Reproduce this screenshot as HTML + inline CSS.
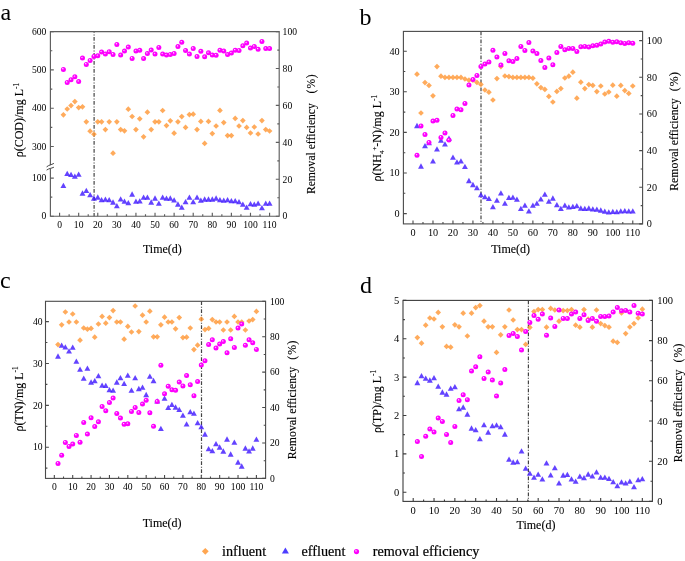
<!DOCTYPE html>
<html><head><meta charset="utf-8"><style>
html,body{margin:0;padding:0;background:#fff;}
svg{display:block;will-change:transform;}
text{font-family:"Liberation Serif", serif;}
.s{stroke:#000;stroke-width:0.2px;}
.t{stroke:#000;stroke-width:0.12px;}
</style></head><body>
<svg width="685" height="561" viewBox="0 0 685 561" font-family='"Liberation Serif", serif'>
<defs>
<radialGradient id="sg" cx="0.5" cy="0.5" r="0.5" fx="0.36" fy="0.32">
<stop offset="0" stop-color="#fff2ff"/>
<stop offset="0.14" stop-color="#ffa8ff"/>
<stop offset="0.34" stop-color="#ff30ff"/>
<stop offset="0.48" stop-color="#ff00ff"/>
<stop offset="1" stop-color="#fb00fb"/>
</radialGradient>
</defs>
<rect width="685" height="561" fill="#fff"/>
<line x1="94.1" y1="31.6" x2="94.1" y2="216.2" stroke="#444" stroke-width="1.2" stroke-dasharray="3.8 1.6 1 1.6" stroke-dashoffset="2.53"/>
<g fill="#3c14ff" fill-opacity="0.8">
<path d="M63.4 182.75L66.35 188.05L60.45 188.05Z"/>
<path d="M67.22 170.75L70.17 176.05L64.27 176.05Z"/>
<path d="M71.03 171.75L73.98 177.05L68.08 177.05Z"/>
<path d="M74.85 173.55L77.8 178.85L71.9 178.85Z"/>
<path d="M78.67 171.55L81.62 176.85L75.72 176.85Z"/>
<path d="M82.49 190.35L85.44 195.65L79.54 195.65Z"/>
<path d="M86.31 187.75L89.26 193.05L83.36 193.05Z"/>
<path d="M90.12 191.95L93.07 197.25L87.17 197.25Z"/>
<path d="M93.94 195.35L96.89 200.65L90.99 200.65Z"/>
<path d="M97.76 194.35L100.71 199.65L94.81 199.65Z"/>
<path d="M101.58 196.95L104.53 202.25L98.63 202.25Z"/>
<path d="M105.4 196.55L108.35 201.85L102.45 201.85Z"/>
<path d="M109.21 196.95L112.16 202.25L106.26 202.25Z"/>
<path d="M113.03 199.35L115.98 204.65L110.08 204.65Z"/>
<path d="M116.85 202.95L119.8 208.25L113.9 208.25Z"/>
<path d="M120.67 196.15L123.62 201.45L117.72 201.45Z"/>
<path d="M124.49 198.55L127.44 203.85L121.54 203.85Z"/>
<path d="M128.3 199.95L131.25 205.25L125.35 205.25Z"/>
<path d="M132.12 191.35L135.07 196.65L129.17 196.65Z"/>
<path d="M135.94 198.55L138.89 203.85L132.99 203.85Z"/>
<path d="M139.76 198.15L142.71 203.45L136.81 203.45Z"/>
<path d="M143.58 194.55L146.53 199.85L140.63 199.85Z"/>
<path d="M147.39 194.55L150.34 199.85L144.44 199.85Z"/>
<path d="M151.21 199.35L154.16 204.65L148.26 204.65Z"/>
<path d="M155.03 195.35L157.98 200.65L152.08 200.65Z"/>
<path d="M158.85 200.55L161.8 205.85L155.9 205.85Z"/>
<path d="M162.67 194.55L165.62 199.85L159.72 199.85Z"/>
<path d="M166.48 195.55L169.43 200.85L163.53 200.85Z"/>
<path d="M170.3 195.35L173.25 200.65L167.35 200.65Z"/>
<path d="M174.12 197.15L177.07 202.45L171.17 202.45Z"/>
<path d="M177.94 201.35L180.89 206.65L174.99 206.65Z"/>
<path d="M181.76 204.55L184.71 209.85L178.81 209.85Z"/>
<path d="M185.57 198.95L188.52 204.25L182.62 204.25Z"/>
<path d="M189.39 194.55L192.34 199.85L186.44 199.85Z"/>
<path d="M193.21 198.95L196.16 204.25L190.26 204.25Z"/>
<path d="M197.03 194.55L199.98 199.85L194.08 199.85Z"/>
<path d="M200.85 197.55L203.8 202.85L197.9 202.85Z"/>
<path d="M204.66 196.35L207.61 201.65L201.71 201.65Z"/>
<path d="M208.48 196.35L211.43 201.65L205.53 201.65Z"/>
<path d="M212.3 196.35L215.25 201.65L209.35 201.65Z"/>
<path d="M216.12 195.35L219.07 200.65L213.17 200.65Z"/>
<path d="M219.94 196.95L222.89 202.25L216.99 202.25Z"/>
<path d="M223.75 197.55L226.7 202.85L220.8 202.85Z"/>
<path d="M227.57 196.95L230.52 202.25L224.62 202.25Z"/>
<path d="M231.39 197.95L234.34 203.25L228.44 203.25Z"/>
<path d="M235.21 197.95L238.16 203.25L232.26 203.25Z"/>
<path d="M239.03 198.95L241.98 204.25L236.08 204.25Z"/>
<path d="M242.84 201.55L245.79 206.85L239.89 206.85Z"/>
<path d="M246.66 204.55L249.61 209.85L243.71 209.85Z"/>
<path d="M250.48 200.95L253.43 206.25L247.53 206.25Z"/>
<path d="M254.3 201.55L257.25 206.85L251.35 206.85Z"/>
<path d="M258.12 200.55L261.07 205.85L255.17 205.85Z"/>
<path d="M261.93 204.95L264.88 210.25L258.98 210.25Z"/>
<path d="M265.75 200.55L268.7 205.85L262.8 205.85Z"/>
<path d="M269.57 200.55L272.52 205.85L266.62 205.85Z"/>
</g>
<g fill="#ff9633" fill-opacity="0.8">
<path d="M63.4 111.95L66.25 114.8L63.4 117.65L60.55 114.8Z"/>
<path d="M67.22 106.15L70.07 109L67.22 111.85L64.37 109Z"/>
<path d="M71.03 102.75L73.88 105.6L71.03 108.45L68.18 105.6Z"/>
<path d="M74.85 98.75L77.7 101.6L74.85 104.45L72 101.6Z"/>
<path d="M78.67 104.75L81.52 107.6L78.67 110.45L75.82 107.6Z"/>
<path d="M82.49 103.95L85.34 106.8L82.49 109.65L79.64 106.8Z"/>
<path d="M86.31 118.95L89.16 121.8L86.31 124.65L83.46 121.8Z"/>
<path d="M90.12 128.35L92.97 131.2L90.12 134.05L87.27 131.2Z"/>
<path d="M93.94 131.35L96.79 134.2L93.94 137.05L91.09 134.2Z"/>
<path d="M97.76 118.95L100.61 121.8L97.76 124.65L94.91 121.8Z"/>
<path d="M101.58 118.95L104.43 121.8L101.58 124.65L98.73 121.8Z"/>
<path d="M105.4 126.75L108.25 129.6L105.4 132.45L102.55 129.6Z"/>
<path d="M109.21 118.95L112.06 121.8L109.21 124.65L106.36 121.8Z"/>
<path d="M113.03 150.35L115.88 153.2L113.03 156.05L110.18 153.2Z"/>
<path d="M116.85 118.95L119.7 121.8L116.85 124.65L114 121.8Z"/>
<path d="M120.67 126.75L123.52 129.6L120.67 132.45L117.82 129.6Z"/>
<path d="M124.49 127.95L127.34 130.8L124.49 133.65L121.64 130.8Z"/>
<path d="M128.3 106.35L131.15 109.2L128.3 112.05L125.45 109.2Z"/>
<path d="M132.12 113.65L134.97 116.5L132.12 119.35L129.27 116.5Z"/>
<path d="M135.94 126.75L138.79 129.6L135.94 132.45L133.09 129.6Z"/>
<path d="M139.76 115.95L142.61 118.8L139.76 121.65L136.91 118.8Z"/>
<path d="M143.58 133.95L146.43 136.8L143.58 139.65L140.73 136.8Z"/>
<path d="M147.39 109.35L150.24 112.2L147.39 115.05L144.54 112.2Z"/>
<path d="M151.21 126.75L154.06 129.6L151.21 132.45L148.36 129.6Z"/>
<path d="M155.03 118.95L157.88 121.8L155.03 124.65L152.18 121.8Z"/>
<path d="M158.85 118.95L161.7 121.8L158.85 124.65L156 121.8Z"/>
<path d="M162.67 107.65L165.52 110.5L162.67 113.35L159.82 110.5Z"/>
<path d="M166.48 122.75L169.33 125.6L166.48 128.45L163.63 125.6Z"/>
<path d="M170.3 117.95L173.15 120.8L170.3 123.65L167.45 120.8Z"/>
<path d="M174.12 130.35L176.97 133.2L174.12 136.05L171.27 133.2Z"/>
<path d="M177.94 118.95L180.79 121.8L177.94 124.65L175.09 121.8Z"/>
<path d="M181.76 113.75L184.61 116.6L181.76 119.45L178.91 116.6Z"/>
<path d="M185.57 124.55L188.42 127.4L185.57 130.25L182.72 127.4Z"/>
<path d="M189.39 111.75L192.24 114.6L189.39 117.45L186.54 114.6Z"/>
<path d="M193.21 111.35L196.06 114.2L193.21 117.05L190.36 114.2Z"/>
<path d="M197.03 126.75L199.88 129.6L197.03 132.45L194.18 129.6Z"/>
<path d="M200.85 118.55L203.7 121.4L200.85 124.25L198 121.4Z"/>
<path d="M204.66 140.55L207.51 143.4L204.66 146.25L201.81 143.4Z"/>
<path d="M208.48 118.55L211.33 121.4L208.48 124.25L205.63 121.4Z"/>
<path d="M212.3 130.75L215.15 133.6L212.3 136.45L209.45 133.6Z"/>
<path d="M216.12 123.15L218.97 126L216.12 128.85L213.27 126Z"/>
<path d="M219.94 107.55L222.79 110.4L219.94 113.25L217.09 110.4Z"/>
<path d="M223.75 119.75L226.6 122.6L223.75 125.45L220.9 122.6Z"/>
<path d="M227.57 132.75L230.42 135.6L227.57 138.45L224.72 135.6Z"/>
<path d="M231.39 132.75L234.24 135.6L231.39 138.45L228.54 135.6Z"/>
<path d="M235.21 115.55L238.06 118.4L235.21 121.25L232.36 118.4Z"/>
<path d="M239.03 123.15L241.88 126L239.03 128.85L236.18 126Z"/>
<path d="M242.84 117.75L245.69 120.6L242.84 123.45L239.99 120.6Z"/>
<path d="M246.66 124.55L249.51 127.4L246.66 130.25L243.81 127.4Z"/>
<path d="M250.48 130.15L253.33 133L250.48 135.85L247.63 133Z"/>
<path d="M254.3 124.15L257.15 127L254.3 129.85L251.45 127Z"/>
<path d="M258.12 131.15L260.97 134L258.12 136.85L255.27 134Z"/>
<path d="M261.93 117.75L264.78 120.6L261.93 123.45L259.08 120.6Z"/>
<path d="M265.75 126.75L268.6 129.6L265.75 132.45L262.9 129.6Z"/>
<path d="M269.57 128.15L272.42 131L269.57 133.85L266.72 131Z"/>
</g>
<g>
<circle cx="63.4" cy="69.4" r="2.5" fill="url(#sg)"/>
<circle cx="67.22" cy="82.6" r="2.5" fill="url(#sg)"/>
<circle cx="71.03" cy="79.8" r="2.5" fill="url(#sg)"/>
<circle cx="74.85" cy="76.8" r="2.5" fill="url(#sg)"/>
<circle cx="78.67" cy="81.6" r="2.5" fill="url(#sg)"/>
<circle cx="82.49" cy="58" r="2.5" fill="url(#sg)"/>
<circle cx="86.31" cy="64.4" r="2.5" fill="url(#sg)"/>
<circle cx="90.12" cy="60.6" r="2.5" fill="url(#sg)"/>
<circle cx="93.94" cy="56.4" r="2.5" fill="url(#sg)"/>
<circle cx="97.76" cy="55.8" r="2.5" fill="url(#sg)"/>
<circle cx="101.58" cy="52" r="2.5" fill="url(#sg)"/>
<circle cx="105.4" cy="54" r="2.5" fill="url(#sg)"/>
<circle cx="109.21" cy="51.8" r="2.5" fill="url(#sg)"/>
<circle cx="113.03" cy="54.4" r="2.5" fill="url(#sg)"/>
<circle cx="116.85" cy="44.4" r="2.5" fill="url(#sg)"/>
<circle cx="120.67" cy="55" r="2.5" fill="url(#sg)"/>
<circle cx="124.49" cy="51" r="2.5" fill="url(#sg)"/>
<circle cx="128.3" cy="47" r="2.5" fill="url(#sg)"/>
<circle cx="132.12" cy="58.4" r="2.5" fill="url(#sg)"/>
<circle cx="135.94" cy="51" r="2.5" fill="url(#sg)"/>
<circle cx="139.76" cy="50.2" r="2.5" fill="url(#sg)"/>
<circle cx="143.58" cy="58.6" r="2.5" fill="url(#sg)"/>
<circle cx="147.39" cy="53.6" r="2.5" fill="url(#sg)"/>
<circle cx="151.21" cy="50" r="2.5" fill="url(#sg)"/>
<circle cx="155.03" cy="54" r="2.5" fill="url(#sg)"/>
<circle cx="158.85" cy="47.4" r="2.5" fill="url(#sg)"/>
<circle cx="162.67" cy="54" r="2.5" fill="url(#sg)"/>
<circle cx="166.48" cy="55" r="2.5" fill="url(#sg)"/>
<circle cx="170.3" cy="54.6" r="2.5" fill="url(#sg)"/>
<circle cx="174.12" cy="53.6" r="2.5" fill="url(#sg)"/>
<circle cx="177.94" cy="46.6" r="2.5" fill="url(#sg)"/>
<circle cx="181.76" cy="42.2" r="2.5" fill="url(#sg)"/>
<circle cx="185.57" cy="50.4" r="2.5" fill="url(#sg)"/>
<circle cx="189.39" cy="54" r="2.5" fill="url(#sg)"/>
<circle cx="193.21" cy="48.6" r="2.5" fill="url(#sg)"/>
<circle cx="197.03" cy="56.6" r="2.5" fill="url(#sg)"/>
<circle cx="200.85" cy="51.2" r="2.5" fill="url(#sg)"/>
<circle cx="204.66" cy="56.8" r="2.5" fill="url(#sg)"/>
<circle cx="208.48" cy="52.8" r="2.5" fill="url(#sg)"/>
<circle cx="212.3" cy="55" r="2.5" fill="url(#sg)"/>
<circle cx="216.12" cy="55.2" r="2.5" fill="url(#sg)"/>
<circle cx="219.94" cy="50.2" r="2.5" fill="url(#sg)"/>
<circle cx="223.75" cy="51" r="2.5" fill="url(#sg)"/>
<circle cx="227.57" cy="54.6" r="2.5" fill="url(#sg)"/>
<circle cx="231.39" cy="53" r="2.5" fill="url(#sg)"/>
<circle cx="235.21" cy="50.2" r="2.5" fill="url(#sg)"/>
<circle cx="239.03" cy="50.6" r="2.5" fill="url(#sg)"/>
<circle cx="242.84" cy="45.8" r="2.5" fill="url(#sg)"/>
<circle cx="246.66" cy="43" r="2.5" fill="url(#sg)"/>
<circle cx="250.48" cy="48" r="2.5" fill="url(#sg)"/>
<circle cx="254.3" cy="46.6" r="2.5" fill="url(#sg)"/>
<circle cx="258.12" cy="49.2" r="2.5" fill="url(#sg)"/>
<circle cx="261.93" cy="41.4" r="2.5" fill="url(#sg)"/>
<circle cx="265.75" cy="48.6" r="2.5" fill="url(#sg)"/>
<circle cx="269.57" cy="48.6" r="2.5" fill="url(#sg)"/>
</g>
<path d="M50.4 31.6H53.8M50.4 69.9H53.8M50.4 108.2H53.8M50.4 146.5H53.8M50.4 178.1H53.8M50.4 216.2H53.8M50.4 50.75H52.3M50.4 89.05H52.3M50.4 127.35H52.3M50.4 197.15H52.3M279.2 216.2H275.8M279.2 179.28H275.8M279.2 142.36H275.8M279.2 105.44H275.8M279.2 68.52H275.8M279.2 31.6H275.8M279.2 197.74H277.3M279.2 160.82H277.3M279.2 123.9H277.3M279.2 86.98H277.3M279.2 50.06H277.3M59.58 216.2V212.8M78.67 216.2V212.8M97.76 216.2V212.8M116.85 216.2V212.8M135.94 216.2V212.8M155.03 216.2V212.8M174.12 216.2V212.8M193.21 216.2V212.8M212.3 216.2V212.8M231.39 216.2V212.8M250.48 216.2V212.8M269.57 216.2V212.8M69.12 216.2V214.3M88.22 216.2V214.3M107.31 216.2V214.3M126.39 216.2V214.3M145.49 216.2V214.3M164.57 216.2V214.3M183.67 216.2V214.3M202.75 216.2V214.3M221.85 216.2V214.3M240.94 216.2V214.3M260.02 216.2V214.3" stroke="#5e5e5e" stroke-width="1.15" fill="none"/>
<path d="M50.4 165.3V31.6H279.2V216.2H50.4V168.4" stroke="#5e5e5e" stroke-width="1.15" fill="none"/>
<path d="M46.6 166.9 C49.52 164.6 50.98 165 53.9 163.4" stroke="#444" stroke-width="1" fill="none"/>
<path d="M46.6 170.1 C49.52 168.16 50.98 168.56 53.9 167.2" stroke="#444" stroke-width="1" fill="none"/>
<g font-size="9.6" fill="#000">
<text x="46.3" y="34.86" text-anchor="end">600</text>
<text x="46.3" y="73.16" text-anchor="end">500</text>
<text x="46.3" y="111.46" text-anchor="end">400</text>
<text x="46.3" y="149.76" text-anchor="end">300</text>
<text x="46.3" y="181.36" text-anchor="end">100</text>
<text x="46.3" y="219.46" text-anchor="end">0</text>
<text x="282.6" y="219.46">0</text>
<text x="282.6" y="182.54">20</text>
<text x="282.6" y="145.62">40</text>
<text x="282.6" y="108.7">60</text>
<text x="282.6" y="71.78">80</text>
<text x="282.6" y="34.86">100</text>
<text x="59.58" y="228" text-anchor="middle">0</text>
<text x="78.67" y="228" text-anchor="middle">10</text>
<text x="97.76" y="228" text-anchor="middle">20</text>
<text x="116.85" y="228" text-anchor="middle">30</text>
<text x="135.94" y="228" text-anchor="middle">40</text>
<text x="155.03" y="228" text-anchor="middle">50</text>
<text x="174.12" y="228" text-anchor="middle">60</text>
<text x="193.21" y="228" text-anchor="middle">70</text>
<text x="212.3" y="228" text-anchor="middle">80</text>
<text x="231.39" y="228" text-anchor="middle">90</text>
<text x="250.48" y="228" text-anchor="middle">100</text>
<text x="269.57" y="228" text-anchor="middle">110</text>
</g>
<text x="162.4" y="253.4" text-anchor="middle" font-size="12" fill="#000" class="t">Time(d)</text>
<text transform="translate(22.7 120) rotate(-90)" text-anchor="middle" font-size="12" fill="#000" class="t">ρ(COD)/mg L<tspan font-size="7.5" dy="-4.2">-1</tspan></text>
<text transform="translate(315 194.1) rotate(-90)" font-size="11.6" fill="#000" class="t">Removal efficiency<tspan dx="9.6">(</tspan><tspan dx="1.3">%</tspan><tspan dx="0.5">)</tspan></text>
<text x="0.5" y="19.8" font-size="24" fill="#000">a</text>
<line x1="481" y1="31.4" x2="481" y2="223.9" stroke="#444" stroke-width="1.2" stroke-dasharray="3.8 1.6 1 1.6" stroke-dashoffset="0"/>
<g fill="#3c14ff" fill-opacity="0.8">
<path d="M417 122.85L419.95 128.15L414.05 128.15Z"/>
<path d="M420.99 163.35L423.94 168.65L418.04 168.65Z"/>
<path d="M424.99 142.95L427.94 148.25L422.04 148.25Z"/>
<path d="M428.98 139.95L431.93 145.25L426.03 145.25Z"/>
<path d="M432.98 158.25L435.93 163.55L430.03 163.55Z"/>
<path d="M436.98 146.25L439.93 151.55L434.03 151.55Z"/>
<path d="M440.97 137.55L443.92 142.85L438.02 142.85Z"/>
<path d="M444.97 141.15L447.92 146.45L442.02 146.45Z"/>
<path d="M448.96 135.45L451.91 140.75L446.01 140.75Z"/>
<path d="M452.96 154.55L455.91 159.85L450.01 159.85Z"/>
<path d="M456.96 159.15L459.91 164.45L454.01 164.45Z"/>
<path d="M460.95 158.15L463.9 163.45L458 163.45Z"/>
<path d="M464.95 163.75L467.9 169.05L462 169.05Z"/>
<path d="M468.94 177.85L471.89 183.15L465.99 183.15Z"/>
<path d="M472.94 181.85L475.89 187.15L469.99 187.15Z"/>
<path d="M476.94 184.95L479.89 190.25L473.99 190.25Z"/>
<path d="M480.93 191.95L483.88 197.25L477.98 197.25Z"/>
<path d="M484.93 193.95L487.88 199.25L481.98 199.25Z"/>
<path d="M488.92 195.75L491.87 201.05L485.97 201.05Z"/>
<path d="M492.92 203.95L495.87 209.25L489.97 209.25Z"/>
<path d="M496.92 197.55L499.87 202.85L493.97 202.85Z"/>
<path d="M500.91 190.25L503.86 195.55L497.96 195.55Z"/>
<path d="M504.91 200.45L507.86 205.75L501.96 205.75Z"/>
<path d="M508.9 194.65L511.85 199.95L505.95 199.95Z"/>
<path d="M512.9 194.45L515.85 199.75L509.95 199.75Z"/>
<path d="M516.9 196.45L519.85 201.75L513.95 201.75Z"/>
<path d="M520.89 205.75L523.84 211.05L517.94 211.05Z"/>
<path d="M524.89 202.45L527.84 207.75L521.94 207.75Z"/>
<path d="M528.88 208.15L531.83 213.45L525.93 213.45Z"/>
<path d="M532.88 202.55L535.83 207.85L529.93 207.85Z"/>
<path d="M536.88 200.55L539.83 205.85L533.93 205.85Z"/>
<path d="M540.87 196.25L543.82 201.55L537.92 201.55Z"/>
<path d="M544.87 191.55L547.82 196.85L541.92 196.85Z"/>
<path d="M548.86 198.55L551.81 203.85L545.91 203.85Z"/>
<path d="M552.86 195.35L555.81 200.65L549.91 200.65Z"/>
<path d="M556.86 201.95L559.81 207.25L553.91 207.25Z"/>
<path d="M560.85 205.75L563.8 211.05L557.9 211.05Z"/>
<path d="M564.85 202.55L567.8 207.85L561.9 207.85Z"/>
<path d="M568.84 204.15L571.79 209.45L565.89 209.45Z"/>
<path d="M572.84 203.75L575.79 209.05L569.89 209.05Z"/>
<path d="M576.84 202.95L579.79 208.25L573.89 208.25Z"/>
<path d="M580.83 205.35L583.78 210.65L577.88 210.65Z"/>
<path d="M584.83 205.75L587.78 211.05L581.88 211.05Z"/>
<path d="M588.82 205.35L591.77 210.65L585.87 210.65Z"/>
<path d="M592.82 206.15L595.77 211.45L589.87 211.45Z"/>
<path d="M596.82 206.55L599.77 211.85L593.87 211.85Z"/>
<path d="M600.81 207.35L603.76 212.65L597.86 212.65Z"/>
<path d="M604.81 208.55L607.76 213.85L601.86 213.85Z"/>
<path d="M608.8 209.15L611.75 214.45L605.85 214.45Z"/>
<path d="M612.8 208.75L615.75 214.05L609.85 214.05Z"/>
<path d="M616.8 208.95L619.75 214.25L613.85 214.25Z"/>
<path d="M620.79 208.15L623.74 213.45L617.84 213.45Z"/>
<path d="M624.79 207.95L627.74 213.25L621.84 213.25Z"/>
<path d="M628.78 208.15L631.73 213.45L625.83 213.45Z"/>
<path d="M632.78 208.15L635.73 213.45L629.83 213.45Z"/>
</g>
<g fill="#ff9633" fill-opacity="0.8">
<path d="M417 71.35L419.85 74.2L417 77.05L414.15 74.2Z"/>
<path d="M420.99 110.15L423.84 113L420.99 115.85L418.14 113Z"/>
<path d="M424.99 79.75L427.84 82.6L424.99 85.45L422.14 82.6Z"/>
<path d="M428.98 82.55L431.83 85.4L428.98 88.25L426.13 85.4Z"/>
<path d="M432.98 92.95L435.83 95.8L432.98 98.65L430.13 95.8Z"/>
<path d="M436.98 63.75L439.83 66.6L436.98 69.45L434.13 66.6Z"/>
<path d="M440.97 73.35L443.82 76.2L440.97 79.05L438.12 76.2Z"/>
<path d="M444.97 74.55L447.82 77.4L444.97 80.25L442.12 77.4Z"/>
<path d="M448.96 74.55L451.81 77.4L448.96 80.25L446.11 77.4Z"/>
<path d="M452.96 74.55L455.81 77.4L452.96 80.25L450.11 77.4Z"/>
<path d="M456.96 74.55L459.81 77.4L456.96 80.25L454.11 77.4Z"/>
<path d="M460.95 74.55L463.8 77.4L460.95 80.25L458.1 77.4Z"/>
<path d="M464.95 76.15L467.8 79L464.95 81.85L462.1 79Z"/>
<path d="M468.94 77.35L471.79 80.2L468.94 83.05L466.09 80.2Z"/>
<path d="M472.94 77.35L475.79 80.2L472.94 83.05L470.09 80.2Z"/>
<path d="M476.94 79.55L479.79 82.4L476.94 85.25L474.09 82.4Z"/>
<path d="M480.93 81.55L483.78 84.4L480.93 87.25L478.08 84.4Z"/>
<path d="M484.93 87.15L487.78 90L484.93 92.85L482.08 90Z"/>
<path d="M488.92 89.35L491.77 92.2L488.92 95.05L486.07 92.2Z"/>
<path d="M492.92 97.15L495.77 100L492.92 102.85L490.07 100Z"/>
<path d="M496.92 75.75L499.77 78.6L496.92 81.45L494.07 78.6Z"/>
<path d="M500.91 63.75L503.76 66.6L500.91 69.45L498.06 66.6Z"/>
<path d="M504.91 73.15L507.76 76L504.91 78.85L502.06 76Z"/>
<path d="M508.9 73.75L511.75 76.6L508.9 79.45L506.05 76.6Z"/>
<path d="M512.9 74.55L515.75 77.4L512.9 80.25L510.05 77.4Z"/>
<path d="M516.9 74.55L519.75 77.4L516.9 80.25L514.05 77.4Z"/>
<path d="M520.89 74.55L523.74 77.4L520.89 80.25L518.04 77.4Z"/>
<path d="M524.89 74.55L527.74 77.4L524.89 80.25L522.04 77.4Z"/>
<path d="M528.88 74.55L531.73 77.4L528.88 80.25L526.03 77.4Z"/>
<path d="M532.88 75.35L535.73 78.2L532.88 81.05L530.03 78.2Z"/>
<path d="M536.88 80.95L539.73 83.8L536.88 86.65L534.03 83.8Z"/>
<path d="M540.87 84.75L543.72 87.6L540.87 90.45L538.02 87.6Z"/>
<path d="M544.87 86.55L547.72 89.4L544.87 92.25L542.02 89.4Z"/>
<path d="M548.86 93.55L551.71 96.4L548.86 99.25L546.01 96.4Z"/>
<path d="M552.86 99.15L555.71 102L552.86 104.85L550.01 102Z"/>
<path d="M556.86 88.55L559.71 91.4L556.86 94.25L554.01 91.4Z"/>
<path d="M560.85 85.75L563.7 88.6L560.85 91.45L558 88.6Z"/>
<path d="M564.85 75.15L567.7 78L564.85 80.85L562 78Z"/>
<path d="M568.84 73.35L571.69 76.2L568.84 79.05L565.99 76.2Z"/>
<path d="M572.84 69.35L575.69 72.2L572.84 75.05L569.99 72.2Z"/>
<path d="M576.84 95.35L579.69 98.2L576.84 101.05L573.99 98.2Z"/>
<path d="M580.83 79.35L583.68 82.2L580.83 85.05L577.98 82.2Z"/>
<path d="M584.83 85.75L587.68 88.6L584.83 91.45L581.98 88.6Z"/>
<path d="M588.82 81.75L591.67 84.6L588.82 87.45L585.97 84.6Z"/>
<path d="M592.82 82.55L595.67 85.4L592.82 88.25L589.97 85.4Z"/>
<path d="M596.82 88.75L599.67 91.6L596.82 94.45L593.97 91.6Z"/>
<path d="M600.81 83.15L603.66 86L600.81 88.85L597.96 86Z"/>
<path d="M604.81 91.15L607.66 94L604.81 96.85L601.96 94Z"/>
<path d="M608.8 89.15L611.65 92L608.8 94.85L605.95 92Z"/>
<path d="M612.8 82.35L615.65 85.2L612.8 88.05L609.95 85.2Z"/>
<path d="M616.8 93.35L619.65 96.2L616.8 99.05L613.95 96.2Z"/>
<path d="M620.79 82.55L623.64 85.4L620.79 88.25L617.94 85.4Z"/>
<path d="M624.79 87.75L627.64 90.6L624.79 93.45L621.94 90.6Z"/>
<path d="M628.78 90.55L631.63 93.4L628.78 96.25L625.93 93.4Z"/>
<path d="M632.78 83.15L635.63 86L632.78 88.85L629.93 86Z"/>
</g>
<g>
<circle cx="417" cy="155.2" r="2.5" fill="url(#sg)"/>
<circle cx="420.99" cy="125.9" r="2.5" fill="url(#sg)"/>
<circle cx="424.99" cy="134.6" r="2.5" fill="url(#sg)"/>
<circle cx="428.98" cy="142.4" r="2.5" fill="url(#sg)"/>
<circle cx="432.98" cy="121.1" r="2.5" fill="url(#sg)"/>
<circle cx="436.98" cy="120.2" r="2.5" fill="url(#sg)"/>
<circle cx="440.97" cy="137.4" r="2.5" fill="url(#sg)"/>
<circle cx="444.97" cy="132.9" r="2.5" fill="url(#sg)"/>
<circle cx="448.96" cy="140" r="2.5" fill="url(#sg)"/>
<circle cx="452.96" cy="115.5" r="2.5" fill="url(#sg)"/>
<circle cx="456.96" cy="109" r="2.5" fill="url(#sg)"/>
<circle cx="460.95" cy="109.8" r="2.5" fill="url(#sg)"/>
<circle cx="464.95" cy="103.4" r="2.5" fill="url(#sg)"/>
<circle cx="468.94" cy="85" r="2.5" fill="url(#sg)"/>
<circle cx="472.94" cy="79.6" r="2.5" fill="url(#sg)"/>
<circle cx="476.94" cy="75.4" r="2.5" fill="url(#sg)"/>
<circle cx="480.93" cy="66.4" r="2.5" fill="url(#sg)"/>
<circle cx="484.93" cy="64" r="2.5" fill="url(#sg)"/>
<circle cx="488.92" cy="62" r="2.5" fill="url(#sg)"/>
<circle cx="492.92" cy="50.2" r="2.5" fill="url(#sg)"/>
<circle cx="496.92" cy="57" r="2.5" fill="url(#sg)"/>
<circle cx="500.91" cy="65" r="2.5" fill="url(#sg)"/>
<circle cx="504.91" cy="53.4" r="2.5" fill="url(#sg)"/>
<circle cx="508.9" cy="60.8" r="2.5" fill="url(#sg)"/>
<circle cx="512.9" cy="61.6" r="2.5" fill="url(#sg)"/>
<circle cx="516.9" cy="58.6" r="2.5" fill="url(#sg)"/>
<circle cx="520.89" cy="46.4" r="2.5" fill="url(#sg)"/>
<circle cx="524.89" cy="50.4" r="2.5" fill="url(#sg)"/>
<circle cx="528.88" cy="42.6" r="2.5" fill="url(#sg)"/>
<circle cx="532.88" cy="51" r="2.5" fill="url(#sg)"/>
<circle cx="536.88" cy="53.6" r="2.5" fill="url(#sg)"/>
<circle cx="540.87" cy="60.6" r="2.5" fill="url(#sg)"/>
<circle cx="544.87" cy="67.6" r="2.5" fill="url(#sg)"/>
<circle cx="548.86" cy="58" r="2.5" fill="url(#sg)"/>
<circle cx="552.86" cy="64.8" r="2.5" fill="url(#sg)"/>
<circle cx="556.86" cy="52.6" r="2.5" fill="url(#sg)"/>
<circle cx="560.85" cy="46.4" r="2.5" fill="url(#sg)"/>
<circle cx="564.85" cy="49.8" r="2.5" fill="url(#sg)"/>
<circle cx="568.84" cy="48.4" r="2.5" fill="url(#sg)"/>
<circle cx="572.84" cy="48.4" r="2.5" fill="url(#sg)"/>
<circle cx="576.84" cy="51.4" r="2.5" fill="url(#sg)"/>
<circle cx="580.83" cy="46.8" r="2.5" fill="url(#sg)"/>
<circle cx="584.83" cy="46.4" r="2.5" fill="url(#sg)"/>
<circle cx="588.82" cy="47" r="2.5" fill="url(#sg)"/>
<circle cx="592.82" cy="45.8" r="2.5" fill="url(#sg)"/>
<circle cx="596.82" cy="45.2" r="2.5" fill="url(#sg)"/>
<circle cx="600.81" cy="44" r="2.5" fill="url(#sg)"/>
<circle cx="604.81" cy="42" r="2.5" fill="url(#sg)"/>
<circle cx="608.8" cy="41.2" r="2.5" fill="url(#sg)"/>
<circle cx="612.8" cy="42.2" r="2.5" fill="url(#sg)"/>
<circle cx="616.8" cy="41.8" r="2.5" fill="url(#sg)"/>
<circle cx="620.79" cy="42.8" r="2.5" fill="url(#sg)"/>
<circle cx="624.79" cy="43.4" r="2.5" fill="url(#sg)"/>
<circle cx="628.78" cy="42.8" r="2.5" fill="url(#sg)"/>
<circle cx="632.78" cy="43.2" r="2.5" fill="url(#sg)"/>
</g>
<path d="M403.4 213.6H406.8M403.4 173H406.8M403.4 132.4H406.8M403.4 91.8H406.8M403.4 51.2H406.8M403.4 193.3H405.3M403.4 152.7H405.3M403.4 112.1H405.3M403.4 71.5H405.3M642.6 223.9H639.2M642.6 187.25H639.2M642.6 150.6H639.2M642.6 113.95H639.2M642.6 77.3H639.2M642.6 40.65H639.2M642.6 205.58H640.7M642.6 168.93H640.7M642.6 132.28H640.7M642.6 95.62H640.7M642.6 58.97H640.7M413 223.9V220.5M432.98 223.9V220.5M452.96 223.9V220.5M472.94 223.9V220.5M492.92 223.9V220.5M512.9 223.9V220.5M532.88 223.9V220.5M552.86 223.9V220.5M572.84 223.9V220.5M592.82 223.9V220.5M612.8 223.9V220.5M632.78 223.9V220.5M422.99 223.9V222M442.97 223.9V222M462.95 223.9V222M482.93 223.9V222M502.91 223.9V222M522.89 223.9V222M542.87 223.9V222M562.85 223.9V222M582.83 223.9V222M602.81 223.9V222M622.79 223.9V222" stroke="#4a4a4a" stroke-width="1.1" fill="none"/>
<rect x="403.4" y="31.4" width="239.2" height="192.5" stroke="#4a4a4a" stroke-width="1.1" fill="none"/>
<g font-size="10.2" fill="#000">
<text x="399.6" y="217.07" text-anchor="end">0</text>
<text x="399.6" y="176.47" text-anchor="end">10</text>
<text x="399.6" y="135.87" text-anchor="end">20</text>
<text x="399.6" y="95.27" text-anchor="end">30</text>
<text x="399.6" y="54.67" text-anchor="end">40</text>
<text x="646.8" y="227.37">0</text>
<text x="646.8" y="190.72">20</text>
<text x="646.8" y="154.07">40</text>
<text x="646.8" y="117.42">60</text>
<text x="646.8" y="80.77">80</text>
<text x="646.8" y="44.12">100</text>
<text x="413" y="236.4" text-anchor="middle">0</text>
<text x="432.98" y="236.4" text-anchor="middle">10</text>
<text x="452.96" y="236.4" text-anchor="middle">20</text>
<text x="472.94" y="236.4" text-anchor="middle">30</text>
<text x="492.92" y="236.4" text-anchor="middle">40</text>
<text x="512.9" y="236.4" text-anchor="middle">50</text>
<text x="532.88" y="236.4" text-anchor="middle">60</text>
<text x="552.86" y="236.4" text-anchor="middle">70</text>
<text x="572.84" y="236.4" text-anchor="middle">80</text>
<text x="592.82" y="236.4" text-anchor="middle">90</text>
<text x="612.8" y="236.4" text-anchor="middle">100</text>
<text x="632.78" y="236.4" text-anchor="middle">110</text>
</g>
<text x="510.65" y="252.9" text-anchor="middle" font-size="12" fill="#000" class="t">Time(d)</text>
<text transform="translate(381 138.1) rotate(-90)" text-anchor="middle" font-size="12" fill="#000" class="t">ρ(NH<tspan font-size="7" dy="2.5">4</tspan><tspan font-size="7" dy="-6.5">+</tspan><tspan dy="4">-N)/mg L</tspan><tspan font-size="7.5" dy="-4.2">-1</tspan></text>
<text transform="translate(678.2 190.8) rotate(-90)" font-size="11.8" fill="#000" class="t">Removal efficiency<tspan dx="7.2">(</tspan><tspan dx="1">%</tspan><tspan dx="0.3">)</tspan></text>
<text x="359.5" y="25" font-size="24" fill="#000">b</text>
<line x1="201.5" y1="301.3" x2="201.5" y2="478.4" stroke="#444" stroke-width="1.2" stroke-dasharray="3.8 1.6 1 1.6" stroke-dashoffset="0"/>
<g fill="#3c14ff" fill-opacity="0.8">
<path d="M58 353.35L60.95 358.65L55.05 358.65Z"/>
<path d="M61.68 342.55L64.63 347.85L58.73 347.85Z"/>
<path d="M65.35 344.15L68.3 349.45L62.4 349.45Z"/>
<path d="M69.03 348.15L71.98 353.45L66.08 353.45Z"/>
<path d="M72.7 344.55L75.65 349.85L69.75 349.85Z"/>
<path d="M76.37 358.55L79.32 363.85L73.42 363.85Z"/>
<path d="M80.05 366.55L83 371.85L77.1 371.85Z"/>
<path d="M83.72 375.45L86.67 380.75L80.77 380.75Z"/>
<path d="M87.4 365.55L90.35 370.85L84.45 370.85Z"/>
<path d="M91.07 379.35L94.02 384.65L88.12 384.65Z"/>
<path d="M94.74 377.95L97.69 383.25L91.79 383.25Z"/>
<path d="M98.42 372.95L101.37 378.25L95.47 378.25Z"/>
<path d="M102.09 382.45L105.04 387.75L99.14 387.75Z"/>
<path d="M105.77 382.75L108.72 388.05L102.82 388.05Z"/>
<path d="M109.44 386.95L112.39 392.25L106.49 392.25Z"/>
<path d="M113.11 387.55L116.06 392.85L110.16 392.85Z"/>
<path d="M116.79 379.35L119.74 384.65L113.84 384.65Z"/>
<path d="M120.46 374.95L123.41 380.25L117.51 380.25Z"/>
<path d="M124.14 380.75L127.09 386.05L121.19 386.05Z"/>
<path d="M127.81 372.55L130.76 377.85L124.86 377.85Z"/>
<path d="M131.48 387.55L134.43 392.85L128.53 392.85Z"/>
<path d="M135.16 374.95L138.11 380.25L132.21 380.25Z"/>
<path d="M138.83 385.85L141.78 391.15L135.88 391.15Z"/>
<path d="M142.51 384.55L145.46 389.85L139.56 389.85Z"/>
<path d="M146.18 391.85L149.13 397.15L143.23 397.15Z"/>
<path d="M149.85 373.45L152.8 378.75L146.9 378.75Z"/>
<path d="M153.53 377.85L156.48 383.15L150.58 383.15Z"/>
<path d="M157.2 398.15L160.15 403.45L154.25 403.45Z"/>
<path d="M160.88 425.75L163.83 431.05L157.93 431.05Z"/>
<path d="M164.55 395.45L167.5 400.75L161.6 400.75Z"/>
<path d="M168.22 404.75L171.17 410.05L165.27 410.05Z"/>
<path d="M171.9 401.65L174.85 406.95L168.95 406.95Z"/>
<path d="M175.57 404.35L178.52 409.65L172.62 409.65Z"/>
<path d="M179.25 406.75L182.2 412.05L176.3 412.05Z"/>
<path d="M182.92 412.55L185.87 417.85L179.97 417.85Z"/>
<path d="M186.59 421.15L189.54 426.45L183.64 426.45Z"/>
<path d="M190.27 408.95L193.22 414.25L187.32 414.25Z"/>
<path d="M193.94 410.55L196.89 415.85L190.99 415.85Z"/>
<path d="M197.62 419.95L200.57 425.25L194.67 425.25Z"/>
<path d="M201.29 423.95L204.24 429.25L198.34 429.25Z"/>
<path d="M204.96 431.35L207.91 436.65L202.01 436.65Z"/>
<path d="M208.64 445.95L211.59 451.25L205.69 451.25Z"/>
<path d="M212.31 447.95L215.26 453.25L209.36 453.25Z"/>
<path d="M215.99 440.95L218.94 446.25L213.04 446.25Z"/>
<path d="M219.66 444.35L222.61 449.65L216.71 449.65Z"/>
<path d="M223.33 448.35L226.28 453.65L220.38 453.65Z"/>
<path d="M227.01 436.35L229.96 441.65L224.06 441.65Z"/>
<path d="M230.68 451.35L233.63 456.65L227.73 456.65Z"/>
<path d="M234.36 439.55L237.31 444.85L231.41 444.85Z"/>
<path d="M238.03 459.35L240.98 464.65L235.08 464.65Z"/>
<path d="M241.7 463.35L244.65 468.65L238.75 468.65Z"/>
<path d="M245.38 445.35L248.33 450.65L242.43 450.65Z"/>
<path d="M249.05 448.15L252 453.45L246.1 453.45Z"/>
<path d="M252.73 445.35L255.68 450.65L249.78 450.65Z"/>
<path d="M256.4 436.55L259.35 441.85L253.45 441.85Z"/>
</g>
<g fill="#ff9633" fill-opacity="0.8">
<path d="M58 341.75L60.85 344.6L58 347.45L55.15 344.6Z"/>
<path d="M61.68 321.95L64.53 324.8L61.68 327.65L58.83 324.8Z"/>
<path d="M65.35 309.15L68.2 312L65.35 314.85L62.5 312Z"/>
<path d="M69.03 319.15L71.88 322L69.03 324.85L66.18 322Z"/>
<path d="M72.7 311.15L75.55 314L72.7 316.85L69.85 314Z"/>
<path d="M76.37 319.15L79.22 322L76.37 324.85L73.52 322Z"/>
<path d="M80.05 337.35L82.9 340.2L80.05 343.05L77.2 340.2Z"/>
<path d="M83.72 325.15L86.57 328L83.72 330.85L80.87 328Z"/>
<path d="M87.4 326.35L90.25 329.2L87.4 332.05L84.55 329.2Z"/>
<path d="M91.07 325.55L93.92 328.4L91.07 331.25L88.22 328.4Z"/>
<path d="M94.74 334.35L97.59 337.2L94.74 340.05L91.89 337.2Z"/>
<path d="M98.42 321.15L101.27 324L98.42 326.85L95.57 324Z"/>
<path d="M102.09 313.55L104.94 316.4L102.09 319.25L99.24 316.4Z"/>
<path d="M105.77 320.35L108.62 323.2L105.77 326.05L102.92 323.2Z"/>
<path d="M109.44 314.75L112.29 317.6L109.44 320.45L106.59 317.6Z"/>
<path d="M113.11 307.75L115.96 310.6L113.11 313.45L110.26 310.6Z"/>
<path d="M116.79 319.15L119.64 322L116.79 324.85L113.94 322Z"/>
<path d="M120.46 319.15L123.31 322L120.46 324.85L117.61 322Z"/>
<path d="M124.14 336.35L126.99 339.2L124.14 342.05L121.29 339.2Z"/>
<path d="M127.81 323.55L130.66 326.4L127.81 329.25L124.96 326.4Z"/>
<path d="M131.48 329.15L134.33 332L131.48 334.85L128.63 332Z"/>
<path d="M135.16 303.15L138.01 306L135.16 308.85L132.31 306Z"/>
<path d="M138.83 328.75L141.68 331.6L138.83 334.45L135.98 331.6Z"/>
<path d="M142.51 312.35L145.36 315.2L142.51 318.05L139.66 315.2Z"/>
<path d="M146.18 319.15L149.03 322L146.18 324.85L143.33 322Z"/>
<path d="M149.85 308.35L152.7 311.2L149.85 314.05L147 311.2Z"/>
<path d="M153.53 333.95L156.38 336.8L153.53 339.65L150.68 336.8Z"/>
<path d="M157.2 333.95L160.05 336.8L157.2 339.65L154.35 336.8Z"/>
<path d="M160.88 321.95L163.73 324.8L160.88 327.65L158.03 324.8Z"/>
<path d="M164.55 314.35L167.4 317.2L164.55 320.05L161.7 317.2Z"/>
<path d="M168.22 319.15L171.07 322L168.22 324.85L165.37 322Z"/>
<path d="M171.9 319.15L174.75 322L171.9 324.85L169.05 322Z"/>
<path d="M175.57 325.95L178.42 328.8L175.57 331.65L172.72 328.8Z"/>
<path d="M179.25 314.75L182.1 317.6L179.25 320.45L176.4 317.6Z"/>
<path d="M182.92 334.75L185.77 337.6L182.92 340.45L180.07 337.6Z"/>
<path d="M186.59 334.35L189.44 337.2L186.59 340.05L183.74 337.2Z"/>
<path d="M190.27 325.15L193.12 328L190.27 330.85L187.42 328Z"/>
<path d="M193.94 346.75L196.79 349.6L193.94 352.45L191.09 349.6Z"/>
<path d="M197.62 342.35L200.47 345.2L197.62 348.05L194.77 345.2Z"/>
<path d="M201.29 316.35L204.14 319.2L201.29 322.05L198.44 319.2Z"/>
<path d="M204.96 326.75L207.81 329.6L204.96 332.45L202.11 329.6Z"/>
<path d="M208.64 325.55L211.49 328.4L208.64 331.25L205.79 328.4Z"/>
<path d="M212.31 316.75L215.16 319.6L212.31 322.45L209.46 319.6Z"/>
<path d="M215.99 319.15L218.84 322L215.99 324.85L213.14 322Z"/>
<path d="M219.66 319.15L222.51 322L219.66 324.85L216.81 322Z"/>
<path d="M223.33 327.15L226.18 330L223.33 332.85L220.48 330Z"/>
<path d="M227.01 319.15L229.86 322L227.01 324.85L224.16 322Z"/>
<path d="M230.68 327.15L233.53 330L230.68 332.85L227.83 330Z"/>
<path d="M234.36 313.55L237.21 316.4L234.36 319.25L231.51 316.4Z"/>
<path d="M238.03 319.15L240.88 322L238.03 324.85L235.18 322Z"/>
<path d="M241.7 319.15L244.55 322L241.7 324.85L238.85 322Z"/>
<path d="M245.38 327.15L248.23 330L245.38 332.85L242.53 330Z"/>
<path d="M249.05 318.15L251.9 321L249.05 323.85L246.2 321Z"/>
<path d="M252.73 316.75L255.58 319.6L252.73 322.45L249.88 319.6Z"/>
<path d="M256.4 308.55L259.25 311.4L256.4 314.25L253.55 311.4Z"/>
</g>
<g>
<circle cx="58" cy="463.4" r="2.5" fill="url(#sg)"/>
<circle cx="61.68" cy="455.2" r="2.5" fill="url(#sg)"/>
<circle cx="65.35" cy="442.4" r="2.5" fill="url(#sg)"/>
<circle cx="69.03" cy="446.4" r="2.5" fill="url(#sg)"/>
<circle cx="72.7" cy="444" r="2.5" fill="url(#sg)"/>
<circle cx="76.37" cy="435.4" r="2.5" fill="url(#sg)"/>
<circle cx="80.05" cy="442.2" r="2.5" fill="url(#sg)"/>
<circle cx="83.72" cy="422.4" r="2.5" fill="url(#sg)"/>
<circle cx="87.4" cy="434" r="2.5" fill="url(#sg)"/>
<circle cx="91.07" cy="417.8" r="2.5" fill="url(#sg)"/>
<circle cx="94.74" cy="426.6" r="2.5" fill="url(#sg)"/>
<circle cx="98.42" cy="421.8" r="2.5" fill="url(#sg)"/>
<circle cx="102.09" cy="406.6" r="2.5" fill="url(#sg)"/>
<circle cx="105.77" cy="410.8" r="2.5" fill="url(#sg)"/>
<circle cx="109.44" cy="402.6" r="2.5" fill="url(#sg)"/>
<circle cx="113.11" cy="398" r="2.5" fill="url(#sg)"/>
<circle cx="116.79" cy="413.4" r="2.5" fill="url(#sg)"/>
<circle cx="120.46" cy="418" r="2.5" fill="url(#sg)"/>
<circle cx="124.14" cy="424.2" r="2.5" fill="url(#sg)"/>
<circle cx="127.81" cy="423.8" r="2.5" fill="url(#sg)"/>
<circle cx="131.48" cy="411.4" r="2.5" fill="url(#sg)"/>
<circle cx="135.16" cy="407.6" r="2.5" fill="url(#sg)"/>
<circle cx="138.83" cy="412.6" r="2.5" fill="url(#sg)"/>
<circle cx="142.51" cy="404" r="2.5" fill="url(#sg)"/>
<circle cx="146.18" cy="400.2" r="2.5" fill="url(#sg)"/>
<circle cx="149.85" cy="412.8" r="2.5" fill="url(#sg)"/>
<circle cx="153.53" cy="426.3" r="2.5" fill="url(#sg)"/>
<circle cx="157.2" cy="401.6" r="2.5" fill="url(#sg)"/>
<circle cx="160.88" cy="365.2" r="2.5" fill="url(#sg)"/>
<circle cx="164.55" cy="393.8" r="2.5" fill="url(#sg)"/>
<circle cx="168.22" cy="386.3" r="2.5" fill="url(#sg)"/>
<circle cx="171.9" cy="389.8" r="2.5" fill="url(#sg)"/>
<circle cx="175.57" cy="390.3" r="2.5" fill="url(#sg)"/>
<circle cx="179.25" cy="382" r="2.5" fill="url(#sg)"/>
<circle cx="182.92" cy="385.9" r="2.5" fill="url(#sg)"/>
<circle cx="186.59" cy="375.6" r="2.5" fill="url(#sg)"/>
<circle cx="190.27" cy="384.8" r="2.5" fill="url(#sg)"/>
<circle cx="193.94" cy="395.7" r="2.5" fill="url(#sg)"/>
<circle cx="197.62" cy="381.6" r="2.5" fill="url(#sg)"/>
<circle cx="201.29" cy="365" r="2.5" fill="url(#sg)"/>
<circle cx="204.96" cy="360.8" r="2.5" fill="url(#sg)"/>
<circle cx="208.64" cy="344.6" r="2.5" fill="url(#sg)"/>
<circle cx="212.31" cy="339.8" r="2.5" fill="url(#sg)"/>
<circle cx="215.99" cy="348" r="2.5" fill="url(#sg)"/>
<circle cx="219.66" cy="344" r="2.5" fill="url(#sg)"/>
<circle cx="223.33" cy="341.6" r="2.5" fill="url(#sg)"/>
<circle cx="227.01" cy="352.8" r="2.5" fill="url(#sg)"/>
<circle cx="230.68" cy="338.8" r="2.5" fill="url(#sg)"/>
<circle cx="234.36" cy="347.6" r="2.5" fill="url(#sg)"/>
<circle cx="238.03" cy="328" r="2.5" fill="url(#sg)"/>
<circle cx="241.7" cy="324" r="2.5" fill="url(#sg)"/>
<circle cx="245.38" cy="345.2" r="2.5" fill="url(#sg)"/>
<circle cx="249.05" cy="339.8" r="2.5" fill="url(#sg)"/>
<circle cx="252.73" cy="342.8" r="2.5" fill="url(#sg)"/>
<circle cx="256.4" cy="349.4" r="2.5" fill="url(#sg)"/>
</g>
<path d="M45.5 447.2H48.9M45.5 405.33H48.9M45.5 363.46H48.9M45.5 321.59H48.9M45.5 468.13H47.4M45.5 426.26H47.4M45.5 384.39H47.4M45.5 342.52H47.4M265.6 478.4H262.2M265.6 442.98H262.2M265.6 407.56H262.2M265.6 372.14H262.2M265.6 336.72H262.2M265.6 301.3H262.2M265.6 460.69H263.7M265.6 425.27H263.7M265.6 389.85H263.7M265.6 354.43H263.7M265.6 319.01H263.7M54.33 478.4V475M72.7 478.4V475M91.07 478.4V475M109.44 478.4V475M127.81 478.4V475M146.18 478.4V475M164.55 478.4V475M182.92 478.4V475M201.29 478.4V475M219.66 478.4V475M238.03 478.4V475M256.4 478.4V475M63.52 478.4V476.5M81.88 478.4V476.5M100.25 478.4V476.5M118.62 478.4V476.5M137 478.4V476.5M155.37 478.4V476.5M173.74 478.4V476.5M192.11 478.4V476.5M210.48 478.4V476.5M228.84 478.4V476.5M247.21 478.4V476.5" stroke="#4a4a4a" stroke-width="1.1" fill="none"/>
<rect x="45.5" y="301.3" width="220.1" height="177.1" stroke="#4a4a4a" stroke-width="1.1" fill="none"/>
<g font-size="9.6" fill="#000">
<text x="42.5" y="450.46" text-anchor="end">10</text>
<text x="42.5" y="408.59" text-anchor="end">20</text>
<text x="42.5" y="366.72" text-anchor="end">30</text>
<text x="42.5" y="324.85" text-anchor="end">40</text>
<text x="270" y="481.66">0</text>
<text x="270" y="446.24">20</text>
<text x="270" y="410.82">40</text>
<text x="270" y="375.4">60</text>
<text x="270" y="339.98">80</text>
<text x="270" y="304.56">100</text>
<text x="54.33" y="489.8" text-anchor="middle">0</text>
<text x="72.7" y="489.8" text-anchor="middle">10</text>
<text x="91.07" y="489.8" text-anchor="middle">20</text>
<text x="109.44" y="489.8" text-anchor="middle">30</text>
<text x="127.81" y="489.8" text-anchor="middle">40</text>
<text x="146.18" y="489.8" text-anchor="middle">50</text>
<text x="164.55" y="489.8" text-anchor="middle">60</text>
<text x="182.92" y="489.8" text-anchor="middle">70</text>
<text x="201.29" y="489.8" text-anchor="middle">80</text>
<text x="219.66" y="489.8" text-anchor="middle">90</text>
<text x="238.03" y="489.8" text-anchor="middle">100</text>
<text x="256.4" y="489.8" text-anchor="middle">110</text>
</g>
<text x="162.15" y="526.5" text-anchor="middle" font-size="12" fill="#000" class="t">Time(d)</text>
<text transform="translate(22.5 398.8) rotate(-90)" text-anchor="middle" font-size="12" fill="#000" class="t">ρ(TN)/mg L<tspan font-size="7.5" dy="-4.2">-1</tspan></text>
<text transform="translate(296.3 459.3) rotate(-90)" font-size="11.8" fill="#000" class="t">Removal efficiency<tspan dx="7.2">(</tspan><tspan dx="1">%</tspan><tspan dx="0.3">)</tspan></text>
<text x="0" y="287.5" font-size="24" fill="#000">c</text>
<line x1="528.4" y1="300.4" x2="528.4" y2="501.4" stroke="#444" stroke-width="1.2" stroke-dasharray="3.8 1.6 1 1.6" stroke-dashoffset="0"/>
<g fill="#3c14ff" fill-opacity="0.8">
<path d="M417.37 379.85L420.32 385.15L414.42 385.15Z"/>
<path d="M421.53 372.95L424.48 378.25L418.58 378.25Z"/>
<path d="M425.7 375.55L428.65 380.85L422.75 380.85Z"/>
<path d="M429.86 377.35L432.81 382.65L426.91 382.65Z"/>
<path d="M434.03 374.95L436.98 380.25L431.08 380.25Z"/>
<path d="M438.2 383.55L441.15 388.85L435.25 388.85Z"/>
<path d="M442.36 389.35L445.31 394.65L439.41 394.65Z"/>
<path d="M446.53 391.35L449.48 396.65L443.58 396.65Z"/>
<path d="M450.69 385.45L453.64 390.75L447.74 390.75Z"/>
<path d="M454.86 384.05L457.81 389.35L451.91 389.35Z"/>
<path d="M459.03 405.95L461.98 411.25L456.08 411.25Z"/>
<path d="M463.19 404.35L466.14 409.65L460.24 409.65Z"/>
<path d="M467.36 411.35L470.31 416.65L464.41 416.65Z"/>
<path d="M471.52 425.35L474.47 430.65L468.57 430.65Z"/>
<path d="M475.69 426.95L478.64 432.25L472.74 432.25Z"/>
<path d="M479.86 435.95L482.81 441.25L476.91 441.25Z"/>
<path d="M484.02 421.95L486.97 427.25L481.07 427.25Z"/>
<path d="M488.19 429.35L491.14 434.65L485.24 434.65Z"/>
<path d="M492.35 422.95L495.3 428.25L489.4 428.25Z"/>
<path d="M496.52 422.15L499.47 427.45L493.57 427.45Z"/>
<path d="M500.69 423.95L503.64 429.25L497.74 429.25Z"/>
<path d="M504.85 431.35L507.8 436.65L501.9 436.65Z"/>
<path d="M509.02 456.55L511.97 461.85L506.07 461.85Z"/>
<path d="M513.18 459.35L516.13 464.65L510.23 464.65Z"/>
<path d="M517.35 458.95L520.3 464.25L514.4 464.25Z"/>
<path d="M521.52 448.15L524.47 453.45L518.57 453.45Z"/>
<path d="M525.68 465.45L528.63 470.75L522.73 470.75Z"/>
<path d="M529.85 470.45L532.8 475.75L526.9 475.75Z"/>
<path d="M534.01 474.55L536.96 479.85L531.06 479.85Z"/>
<path d="M538.18 471.55L541.13 476.85L535.23 476.85Z"/>
<path d="M542.35 476.15L545.3 481.45L539.4 481.45Z"/>
<path d="M546.51 460.15L549.46 465.45L543.56 465.45Z"/>
<path d="M550.68 472.15L553.63 477.45L547.73 477.45Z"/>
<path d="M554.84 464.95L557.79 470.25L551.89 470.25Z"/>
<path d="M559.01 480.15L561.96 485.45L556.06 485.45Z"/>
<path d="M563.18 472.35L566.13 477.65L560.23 477.65Z"/>
<path d="M567.34 471.75L570.29 477.05L564.39 477.05Z"/>
<path d="M571.51 476.15L574.46 481.45L568.56 481.45Z"/>
<path d="M575.67 478.55L578.62 483.85L572.72 483.85Z"/>
<path d="M579.84 473.55L582.79 478.85L576.89 478.85Z"/>
<path d="M584.01 474.95L586.96 480.25L581.06 480.25Z"/>
<path d="M588.17 471.35L591.12 476.65L585.22 476.65Z"/>
<path d="M592.34 473.15L595.29 478.45L589.39 478.45Z"/>
<path d="M596.5 469.15L599.45 474.45L593.55 474.45Z"/>
<path d="M600.67 474.55L603.62 479.85L597.72 479.85Z"/>
<path d="M604.84 474.55L607.79 479.85L601.89 479.85Z"/>
<path d="M609 475.75L611.95 481.05L606.05 481.05Z"/>
<path d="M613.17 478.95L616.12 484.25L610.22 484.25Z"/>
<path d="M617.33 482.95L620.28 488.25L614.38 488.25Z"/>
<path d="M621.5 479.15L624.45 484.45L618.55 484.45Z"/>
<path d="M625.67 480.15L628.62 485.45L622.72 485.45Z"/>
<path d="M629.83 478.55L632.78 483.85L626.88 483.85Z"/>
<path d="M634 483.95L636.95 489.25L631.05 489.25Z"/>
<path d="M638.16 476.95L641.11 482.25L635.21 482.25Z"/>
<path d="M642.33 475.95L645.28 481.25L639.38 481.25Z"/>
</g>
<g fill="#ff9633" fill-opacity="0.8">
<path d="M417.37 334.75L420.22 337.6L417.37 340.45L414.52 337.6Z"/>
<path d="M421.53 340.35L424.38 343.2L421.53 346.05L418.68 343.2Z"/>
<path d="M425.7 322.35L428.55 325.2L425.7 328.05L422.85 325.2Z"/>
<path d="M429.86 315.15L432.71 318L429.86 320.85L427.01 318Z"/>
<path d="M434.03 316.15L436.88 319L434.03 321.85L431.18 319Z"/>
<path d="M438.2 309.55L441.05 312.4L438.2 315.25L435.35 312.4Z"/>
<path d="M442.36 323.95L445.21 326.8L442.36 329.65L439.51 326.8Z"/>
<path d="M446.53 343.55L449.38 346.4L446.53 349.25L443.68 346.4Z"/>
<path d="M450.69 344.35L453.54 347.2L450.69 350.05L447.84 347.2Z"/>
<path d="M454.86 321.95L457.71 324.8L454.86 327.65L452.01 324.8Z"/>
<path d="M459.03 323.95L461.88 326.8L459.03 329.65L456.18 326.8Z"/>
<path d="M463.19 310.35L466.04 313.2L463.19 316.05L460.34 313.2Z"/>
<path d="M467.36 333.15L470.21 336L467.36 338.85L464.51 336Z"/>
<path d="M471.52 310.35L474.37 313.2L471.52 316.05L468.67 313.2Z"/>
<path d="M475.69 304.75L478.54 307.6L475.69 310.45L472.84 307.6Z"/>
<path d="M479.86 302.75L482.71 305.6L479.86 308.45L477.01 305.6Z"/>
<path d="M484.02 318.35L486.87 321.2L484.02 324.05L481.17 321.2Z"/>
<path d="M488.19 323.95L491.04 326.8L488.19 329.65L485.34 326.8Z"/>
<path d="M492.35 323.95L495.2 326.8L492.35 329.65L489.5 326.8Z"/>
<path d="M496.52 349.55L499.37 352.4L496.52 355.25L493.67 352.4Z"/>
<path d="M500.69 331.95L503.54 334.8L500.69 337.65L497.84 334.8Z"/>
<path d="M504.85 323.95L507.7 326.8L504.85 329.65L502 326.8Z"/>
<path d="M509.02 307.15L511.87 310L509.02 312.85L506.17 310Z"/>
<path d="M513.18 317.15L516.03 320L513.18 322.85L510.33 320Z"/>
<path d="M517.35 326.75L520.2 329.6L517.35 332.45L514.5 329.6Z"/>
<path d="M521.52 326.75L524.37 329.6L521.52 332.45L518.67 329.6Z"/>
<path d="M525.68 341.55L528.53 344.4L525.68 347.25L522.83 344.4Z"/>
<path d="M529.85 324.55L532.7 327.4L529.85 330.25L527 327.4Z"/>
<path d="M534.01 308.75L536.86 311.6L534.01 314.45L531.16 311.6Z"/>
<path d="M538.18 306.75L541.03 309.6L538.18 312.45L535.33 309.6Z"/>
<path d="M542.35 306.75L545.2 309.6L542.35 312.45L539.5 309.6Z"/>
<path d="M546.51 324.35L549.36 327.2L546.51 330.05L543.66 327.2Z"/>
<path d="M550.68 305.55L553.53 308.4L550.68 311.25L547.83 308.4Z"/>
<path d="M554.84 307.15L557.69 310L554.84 312.85L551.99 310Z"/>
<path d="M559.01 318.35L561.86 321.2L559.01 324.05L556.16 321.2Z"/>
<path d="M563.18 307.75L566.03 310.6L563.18 313.45L560.33 310.6Z"/>
<path d="M567.34 307.75L570.19 310.6L567.34 313.45L564.49 310.6Z"/>
<path d="M571.51 306.75L574.36 309.6L571.51 312.45L568.66 309.6Z"/>
<path d="M575.67 322.35L578.52 325.2L575.67 328.05L572.82 325.2Z"/>
<path d="M579.84 324.35L582.69 327.2L579.84 330.05L576.99 327.2Z"/>
<path d="M584.01 306.75L586.86 309.6L584.01 312.45L581.16 309.6Z"/>
<path d="M588.17 316.35L591.02 319.2L588.17 322.05L585.32 319.2Z"/>
<path d="M592.34 324.35L595.19 327.2L592.34 330.05L589.49 327.2Z"/>
<path d="M596.5 307.15L599.35 310L596.5 312.85L593.65 310Z"/>
<path d="M600.67 320.75L603.52 323.6L600.67 326.45L597.82 323.6Z"/>
<path d="M604.84 322.75L607.69 325.6L604.84 328.45L601.99 325.6Z"/>
<path d="M609 324.35L611.85 327.2L609 330.05L606.15 327.2Z"/>
<path d="M613.17 338.35L616.02 341.2L613.17 344.05L610.32 341.2Z"/>
<path d="M617.33 339.55L620.18 342.4L617.33 345.25L614.48 342.4Z"/>
<path d="M621.5 310.15L624.35 313L621.5 315.85L618.65 313Z"/>
<path d="M625.67 330.75L628.52 333.6L625.67 336.45L622.82 333.6Z"/>
<path d="M629.83 324.15L632.68 327L629.83 329.85L626.98 327Z"/>
<path d="M634 320.75L636.85 323.6L634 326.45L631.15 323.6Z"/>
<path d="M638.16 315.15L641.01 318L638.16 320.85L635.31 318Z"/>
<path d="M642.33 306.35L645.18 309.2L642.33 312.05L639.48 309.2Z"/>
</g>
<g>
<circle cx="417.37" cy="441.6" r="2.5" fill="url(#sg)"/>
<circle cx="421.53" cy="456.6" r="2.5" fill="url(#sg)"/>
<circle cx="425.7" cy="436.2" r="2.5" fill="url(#sg)"/>
<circle cx="429.86" cy="429" r="2.5" fill="url(#sg)"/>
<circle cx="434.03" cy="432" r="2.5" fill="url(#sg)"/>
<circle cx="438.2" cy="418" r="2.5" fill="url(#sg)"/>
<circle cx="442.36" cy="421.4" r="2.5" fill="url(#sg)"/>
<circle cx="446.53" cy="434.4" r="2.5" fill="url(#sg)"/>
<circle cx="450.69" cy="442.6" r="2.5" fill="url(#sg)"/>
<circle cx="454.86" cy="426.4" r="2.5" fill="url(#sg)"/>
<circle cx="459.03" cy="400.6" r="2.5" fill="url(#sg)"/>
<circle cx="463.19" cy="394.8" r="2.5" fill="url(#sg)"/>
<circle cx="467.36" cy="399.7" r="2.5" fill="url(#sg)"/>
<circle cx="471.52" cy="371" r="2.5" fill="url(#sg)"/>
<circle cx="475.69" cy="366.8" r="2.5" fill="url(#sg)"/>
<circle cx="479.86" cy="356.8" r="2.5" fill="url(#sg)"/>
<circle cx="484.02" cy="378.4" r="2.5" fill="url(#sg)"/>
<circle cx="488.19" cy="372" r="2.5" fill="url(#sg)"/>
<circle cx="492.35" cy="380" r="2.5" fill="url(#sg)"/>
<circle cx="496.52" cy="396" r="2.5" fill="url(#sg)"/>
<circle cx="500.69" cy="382.9" r="2.5" fill="url(#sg)"/>
<circle cx="504.85" cy="369.6" r="2.5" fill="url(#sg)"/>
<circle cx="509.02" cy="335.6" r="2.5" fill="url(#sg)"/>
<circle cx="513.18" cy="333.6" r="2.5" fill="url(#sg)"/>
<circle cx="517.35" cy="336.6" r="2.5" fill="url(#sg)"/>
<circle cx="521.52" cy="350" r="2.5" fill="url(#sg)"/>
<circle cx="525.68" cy="331.6" r="2.5" fill="url(#sg)"/>
<circle cx="529.85" cy="322.4" r="2.5" fill="url(#sg)"/>
<circle cx="534.01" cy="315.6" r="2.5" fill="url(#sg)"/>
<circle cx="538.18" cy="319.2" r="2.5" fill="url(#sg)"/>
<circle cx="542.35" cy="314" r="2.5" fill="url(#sg)"/>
<circle cx="546.51" cy="335.2" r="2.5" fill="url(#sg)"/>
<circle cx="550.68" cy="318" r="2.5" fill="url(#sg)"/>
<circle cx="554.84" cy="326.4" r="2.5" fill="url(#sg)"/>
<circle cx="559.01" cy="310" r="2.5" fill="url(#sg)"/>
<circle cx="563.18" cy="318.4" r="2.5" fill="url(#sg)"/>
<circle cx="567.34" cy="318.6" r="2.5" fill="url(#sg)"/>
<circle cx="571.51" cy="314" r="2.5" fill="url(#sg)"/>
<circle cx="575.67" cy="312" r="2.5" fill="url(#sg)"/>
<circle cx="579.84" cy="318.4" r="2.5" fill="url(#sg)"/>
<circle cx="584.01" cy="314.8" r="2.5" fill="url(#sg)"/>
<circle cx="588.17" cy="320.4" r="2.5" fill="url(#sg)"/>
<circle cx="592.34" cy="318.6" r="2.5" fill="url(#sg)"/>
<circle cx="596.5" cy="321.2" r="2.5" fill="url(#sg)"/>
<circle cx="600.67" cy="316.4" r="2.5" fill="url(#sg)"/>
<circle cx="604.84" cy="316.4" r="2.5" fill="url(#sg)"/>
<circle cx="609" cy="316" r="2.5" fill="url(#sg)"/>
<circle cx="613.17" cy="312" r="2.5" fill="url(#sg)"/>
<circle cx="617.33" cy="307.6" r="2.5" fill="url(#sg)"/>
<circle cx="621.5" cy="310.8" r="2.5" fill="url(#sg)"/>
<circle cx="625.67" cy="310.4" r="2.5" fill="url(#sg)"/>
<circle cx="629.83" cy="312" r="2.5" fill="url(#sg)"/>
<circle cx="634" cy="305.6" r="2.5" fill="url(#sg)"/>
<circle cx="638.16" cy="313.2" r="2.5" fill="url(#sg)"/>
<circle cx="642.33" cy="314" r="2.5" fill="url(#sg)"/>
</g>
<path d="M403 492.2H406.4M403 453.84H406.4M403 415.48H406.4M403 377.12H406.4M403 338.76H406.4M403 300.4H406.4M403 473.02H404.9M403 434.66H404.9M403 396.3H404.9M403 357.94H404.9M403 319.58H404.9M652.4 501.4H649M652.4 461.2H649M652.4 421H649M652.4 380.8H649M652.4 340.6H649M652.4 300.4H649M652.4 481.3H650.5M652.4 441.1H650.5M652.4 400.9H650.5M652.4 360.7H650.5M652.4 320.5H650.5M413.2 501.4V498M434.03 501.4V498M454.86 501.4V498M475.69 501.4V498M496.52 501.4V498M517.35 501.4V498M538.18 501.4V498M559.01 501.4V498M579.84 501.4V498M600.67 501.4V498M621.5 501.4V498M642.33 501.4V498M423.62 501.4V499.5M444.44 501.4V499.5M465.27 501.4V499.5M486.11 501.4V499.5M506.94 501.4V499.5M527.76 501.4V499.5M548.6 501.4V499.5M569.42 501.4V499.5M590.25 501.4V499.5M611.09 501.4V499.5M631.91 501.4V499.5" stroke="#3c3c3c" stroke-width="1.1" fill="none"/>
<rect x="403" y="300.4" width="249.4" height="201" stroke="#3c3c3c" stroke-width="1.1" fill="none"/>
<g font-size="10.5" fill="#000">
<text x="399.2" y="495.77" text-anchor="end">0</text>
<text x="399.2" y="457.41" text-anchor="end">1</text>
<text x="399.2" y="419.05" text-anchor="end">2</text>
<text x="399.2" y="380.69" text-anchor="end">3</text>
<text x="399.2" y="342.33" text-anchor="end">4</text>
<text x="399.2" y="303.97" text-anchor="end">5</text>
<text x="657.2" y="504.97">0</text>
<text x="657.2" y="464.77">20</text>
<text x="657.2" y="424.57">40</text>
<text x="657.2" y="384.37">60</text>
<text x="657.2" y="344.17">80</text>
<text x="657.2" y="303.97">100</text>
<text x="413.2" y="514.3" text-anchor="middle">0</text>
<text x="434.03" y="514.3" text-anchor="middle">10</text>
<text x="454.86" y="514.3" text-anchor="middle">20</text>
<text x="475.69" y="514.3" text-anchor="middle">30</text>
<text x="496.52" y="514.3" text-anchor="middle">40</text>
<text x="517.35" y="514.3" text-anchor="middle">50</text>
<text x="538.18" y="514.3" text-anchor="middle">60</text>
<text x="559.01" y="514.3" text-anchor="middle">70</text>
<text x="579.84" y="514.3" text-anchor="middle">80</text>
<text x="600.67" y="514.3" text-anchor="middle">90</text>
<text x="621.5" y="514.3" text-anchor="middle">100</text>
<text x="642.33" y="514.3" text-anchor="middle">110</text>
</g>
<text x="536" y="529.4" text-anchor="middle" font-size="12" fill="#000" class="t">Time(d)</text>
<text transform="translate(380.6 401.4) rotate(-90)" text-anchor="middle" font-size="12" fill="#000" class="t">ρ(TP)/mg L<tspan font-size="7.5" dy="-4.2">-1</tspan></text>
<text transform="translate(682 462.2) rotate(-90)" font-size="11.8" fill="#000" class="t">Removal efficiency<tspan dx="7.2">(</tspan><tspan dx="1">%</tspan><tspan dx="0.3">)</tspan></text>
<text x="360" y="292.8" font-size="24" fill="#000">d</text>
<path fill="#ff9633" fill-opacity="0.85" d="M205.3 547.9L208.7 551.3L205.3 554.7L201.9 551.3Z"/>
<text x="222" y="555.9" font-size="14.2" fill="#000" class="s">influent</text>
<path d="M285.4 547.6L288.9 553.6L281.9 553.6Z" fill="#3a28ff" fill-opacity="0.9"/>
<text x="301.5" y="555.9" font-size="14.2" fill="#000" class="s">effluent</text>
<circle cx="356.5" cy="551.6" r="2.6" fill="url(#sg)"/>
<text x="372.8" y="555.9" font-size="14.2" fill="#000" class="s">removal efficiency</text>
</svg>
</body></html>
